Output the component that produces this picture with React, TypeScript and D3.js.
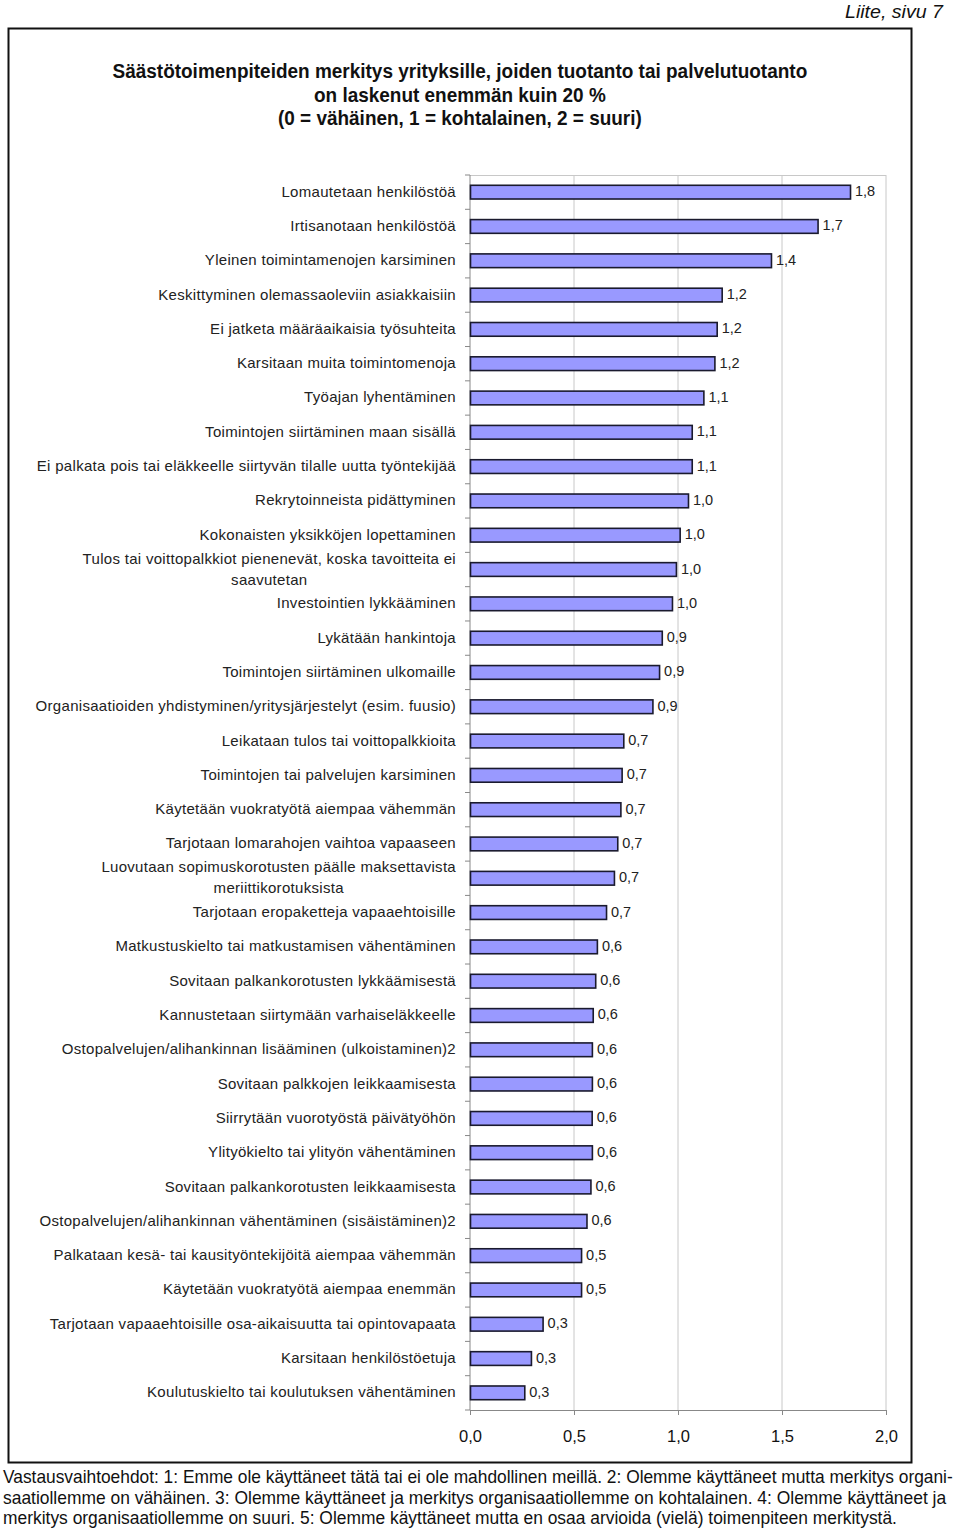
import React, { useEffect, useRef } from 'react';
import * as d3 from 'd3';

const categories: string[] = [
  'Lomautetaan henkilöstöä',
  'Irtisanotaan henkilöstöä',
  'Yleinen toimintamenojen karsiminen',
  'Keskittyminen olemassaoleviin asiakkaisiin',
  'Ei jatketa määräaikaisia työsuhteita',
  'Karsitaan muita toimintomenoja',
  'Työajan lyhentäminen',
  'Toimintojen siirtäminen maan sisällä',
  'Ei palkata pois tai eläkkeelle siirtyvän tilalle uutta työntekijää',
  'Rekrytoinneista pidättyminen',
  'Kokonaisten yksikköjen lopettaminen',
  'Tulos tai voittopalkkiot pienenevät, koska tavoitteita ei\nsaavutetan',
  'Investointien lykkääminen',
  'Lykätään hankintoja',
  'Toimintojen siirtäminen ulkomaille',
  'Organisaatioiden yhdistyminen/yritysjärjestelyt (esim. fuusio)',
  'Leikataan tulos tai voittopalkkioita',
  'Toimintojen tai palvelujen karsiminen',
  'Käytetään vuokratyötä aiempaa vähemmän',
  'Tarjotaan lomarahojen vaihtoa vapaaseen',
  'Luovutaan sopimuskorotusten päälle maksettavista\nmeriittikorotuksista',
  'Tarjotaan eropaketteja vapaaehtoisille',
  'Matkustuskielto tai matkustamisen vähentäminen',
  'Sovitaan palkankorotusten lykkäämisestä',
  'Kannustetaan siirtymään varhaiseläkkeelle',
  'Ostopalvelujen/alihankinnan lisääminen (ulkoistaminen)2',
  'Sovitaan palkkojen leikkaamisesta',
  'Siirrytään vuorotyöstä päivätyöhön',
  'Ylityökielto tai ylityön vähentäminen',
  'Sovitaan palkankorotusten leikkaamisesta',
  'Ostopalvelujen/alihankinnan vähentäminen (sisäistäminen)2',
  'Palkataan kesä- tai kausityöntekijöitä aiempaa vähemmän',
  'Käytetään vuokratyötä aiempaa enemmän',
  'Tarjotaan vapaaehtoisille osa-aikaisuutta tai opintovapaata',
  'Karsitaan henkilöstöetuja',
  'Koulutuskielto tai koulutuksen vähentäminen',
];

const values: number[] = [
  1.827, 1.671, 1.447, 1.21, 1.186, 1.175, 1.122, 1.066, 1.066, 1.048, 1.008, 0.99,
  0.971, 0.922, 0.909, 0.877, 0.737, 0.729, 0.723, 0.708, 0.692, 0.654, 0.61, 0.602,
  0.59, 0.586, 0.586, 0.585, 0.586, 0.579, 0.56, 0.534, 0.534, 0.349, 0.293, 0.261,
];

const xTicks: number[] = [0, 0.5, 1, 1.5, 2];

const titleLines: string[] = [
  'Säästötoimenpiteiden merkitys yrityksille, joiden tuotanto tai palvelutuotanto',
  'on laskenut enemmän kuin 20 %',
  '(0 = vähäinen, 1 = kohtalainen, 2 = suuri)',
];

const footerLines: string[] = [
  'Vastausvaihtoehdot: 1: Emme ole käyttäneet tätä tai ei ole mahdollinen meillä. 2: Olemme käyttäneet mutta merkitys organi-',
  'saatiollemme on vähäinen. 3: Olemme käyttäneet ja merkitys organisaatiollemme on kohtalainen. 4: Olemme käyttäneet ja',
  'merkitys organisaatiollemme on suuri. 5: Olemme käyttäneet mutta en osaa arvioida (vielä) toimenpiteen merkitystä.',
];

const pageNote = 'Liite, sivu 7';

const SANS = 'Arial, "Liberation Sans", Helvetica, sans-serif';

export default function App() {
  const ref = useRef<SVGSVGElement>(null);

  useEffect(() => {
    const svg = d3.select(ref.current);
    svg.selectAll('*').remove();

    const W = 960;
    const plot = { left: 470, right: 886, top: 175, bottom: 1410 };

    svg.append('rect').attr('width', W).attr('height', 1529).attr('fill', '#fff');

    // text horizontally scaled to a given width (mimics the narrow face of the original)
    const fitText = (
      x: number, y: number, width: number, size: number, txt: string,
      opts: { bold?: boolean; italic?: boolean } = {}
    ) => {
      const g = svg.append('g');
      const t = g.append('text')
        .attr('x', 0).attr('y', 0)
        .attr('font-family', SANS)
        .attr('font-weight', opts.bold ? 'bold' : 'normal')
        .attr('font-style', opts.italic ? 'italic' : 'normal')
        .attr('font-size', size)
        .attr('fill', '#111')
        .text(txt);
      const natural = (t.node() as SVGTextElement).getComputedTextLength() || width;
      g.attr('transform', `translate(${x},${y}) scale(${width / natural},1)`);
      return t;
    };

    // page note
    fitText(845, 18, 98, 19, pageNote, { italic: true });

    // outer frame
    svg.append('rect')
      .attr('x', 8.5).attr('y', 28.5).attr('width', 903).attr('height', 1434)
      .attr('fill', 'none').attr('stroke', '#111').attr('stroke-width', 2);

    // title
    const titleWidths = [695, 292, 364];
    titleLines.forEach((t, i) => {
      fitText(460 - titleWidths[i] / 2, 78 + i * 23.5, titleWidths[i], 19.5, t, { bold: true });
    });

    const x = d3.scaleLinear().domain([0, 2]).range([plot.left, plot.right]);
    const y = d3.scaleBand<number>()
      .domain(d3.range(categories.length))
      .range([plot.top, plot.bottom])
      .paddingInner(0.6).paddingOuter(0.3);
    const band = (plot.bottom - plot.top) / categories.length;

    // gridlines
    svg.append('g').selectAll('line')
      .data(xTicks.filter((d) => d > 0))
      .join('line')
      .attr('x1', (d) => x(d)).attr('x2', (d) => x(d))
      .attr('y1', plot.top).attr('y2', plot.bottom)
      .attr('stroke', '#c8c8c8').attr('stroke-width', 1);

    // top border of plot area
    svg.append('line')
      .attr('x1', plot.left).attr('x2', plot.right)
      .attr('y1', plot.top + 0.5).attr('y2', plot.top + 0.5)
      .attr('stroke', '#c8c8c8');

    // x axis
    const xAxis = d3.axisBottom(x).tickValues(xTicks)
      .tickFormat((d) => d3.format('.1f')(d as number).replace('.', ','))
      .tickSize(5).tickPadding(15);
    const gx = svg.append('g').attr('transform', `translate(0,${plot.bottom})`).call(xAxis);
    gx.select('.domain').attr('stroke', '#888');
    gx.selectAll('.tick line').attr('stroke', '#888');
    gx.selectAll('.tick text')
      .attr('font-family', SANS).attr('font-size', 16.5).attr('fill', '#111');

    // y axis line with ticks at category boundaries
    svg.append('line')
      .attr('x1', plot.left).attr('x2', plot.left)
      .attr('y1', plot.top).attr('y2', plot.bottom)
      .attr('stroke', '#888');
    svg.append('g').selectAll('line')
      .data(d3.range(categories.length + 1))
      .join('line')
      .attr('x1', plot.left - 5).attr('x2', plot.left)
      .attr('y1', (i) => plot.top + i * band).attr('y2', (i) => plot.top + i * band)
      .attr('stroke', '#888');

    // bars
    svg.append('g').selectAll('rect')
      .data(values)
      .join('rect')
      .attr('x', x(0) + 0.5)
      .attr('y', (_d, i) => (y(i) as number))
      .attr('width', (d) => x(d) - x(0))
      .attr('height', y.bandwidth())
      .attr('fill', '#9999ff')
      .attr('stroke', '#1a1a2e')
      .attr('stroke-width', 1.6);

    // value labels
    svg.append('g').selectAll('text')
      .data(values)
      .join('text')
      .attr('x', (d) => x(d) + 5)
      .attr('y', (_d, i) => (y(i) as number) + y.bandwidth() / 2 + 4)
      .attr('font-family', SANS).attr('font-size', 14.5).attr('fill', '#222')
      .text((d) => d3.format('.1f')(d).replace('.', ','));

    // category labels
    const labelX = 456;
    const catText = (xx: number, yy: number, anchor: string, txt: string) =>
      svg.append('text')
        .attr('x', xx).attr('y', yy)
        .attr('text-anchor', anchor)
        .attr('font-family', SANS).attr('font-size', 15)
        .attr('letter-spacing', 0.3)
        .attr('fill', '#222')
        .text(txt);
    categories.forEach((c, i) => {
      const cy = (y(i) as number) + y.bandwidth() / 2;
      const lines = c.split('\n');
      if (lines.length === 1) {
        catText(labelX, cy + 4.5, 'end', c);
      } else {
        const t1 = catText(labelX, cy - 6, 'end', lines[0]);
        const w = (t1.node() as SVGTextElement).getComputedTextLength();
        catText(labelX - w / 2, cy + 15, 'middle', lines[1]);
      }
    });

    // footer
    const footerWidths = [951, 944, 894];
    footerLines.forEach((t, i) => {
      fitText(3, 1483 + i * 20.5, footerWidths[i], 17.5, t);
    });
  }, []);

  return (
    <svg
      ref={ref}
      width={960}
      height={1529}
      style={{ position: 'absolute', left: 0, top: 0, display: 'block' }}
    />
  );
}
